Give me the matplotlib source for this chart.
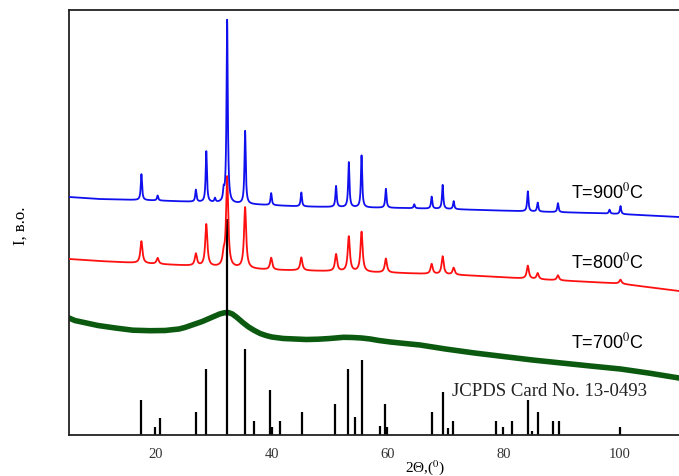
import numpy as np
import matplotlib
matplotlib.use("Agg")
import matplotlib.pyplot as plt

# intensities are in arbitrary units (offset stack)
theta_min, theta_max = 5.0, 110.3

# JCPDS 13-0493 reference sticks
jcpds_pos = [17.5, 19.9, 20.75, 27.0, 28.6, 32.2, 35.3, 37.0, 39.7, 40.0, 41.5,
             45.3, 51.0, 53.2, 54.3, 55.5, 58.6, 59.6, 59.9, 67.7, 69.6, 70.4,
             71.3, 78.7, 79.9, 81.5, 84.2, 84.9, 86.0, 88.6, 89.5, 100.1]
jcpds_int = [35, 8, 17, 23, 66, 216, 86, 14, 45, 8, 14,
             23, 31, 66, 18, 75, 9, 31, 8, 23, 43, 7,
             14, 14, 8, 14, 35, 4, 23, 14, 14, 8]

# T = 900 C
base900_x = [5, 10, 20, 27, 35, 45, 55, 62, 70, 76, 85, 95, 100, 110.3]
base900_y = [238, 236, 234.5, 233, 231, 228.5, 227.5, 227, 226, 225, 223.5, 222, 221, 218]
peak900_pos = [17.5, 20.3, 26.9, 28.7, 30.2, 31.7, 32.3, 35.4, 39.9, 45.1, 51.1,
               53.3, 55.5, 59.7, 64.6, 67.6, 69.5, 71.4, 84.2, 85.9, 89.4, 98.3, 100.2]
peak900_int = [26, 5, 12, 51, 4, 10, 183, 73, 12, 14, 21,
               45, 52, 19, 4, 12, 24, 8, 20, 9, 9, 4, 8]

# T = 800 C
base800_x = [5, 10, 20, 30, 40, 45, 55, 62, 72, 76, 85, 95, 100, 110.3]
base800_y = [176, 174, 171, 168, 165, 164.5, 163, 162, 160, 159, 156, 153, 151.5, 144]
peak800_pos = [17.5, 20.3, 26.9, 28.7, 31.7, 32.3, 35.4, 39.9, 45.1, 51.1,
               53.3, 55.5, 59.7, 67.6, 69.5, 71.4, 84.2, 85.9, 89.4, 100.2]
peak800_int = [22, 6, 12, 42, 10, 90, 61, 12, 13, 17,
               35, 40, 14, 10, 18, 7, 13, 6, 5, 4]

# T = 700 C (amorphous, broad hump)
curve700_x = [5, 6, 8, 10, 13, 16, 19, 21.6, 24, 25, 26, 27, 28, 29, 30, 31, 31.8,
              32.5, 33.2, 34, 35, 36, 37, 38, 39, 40, 42, 44, 46, 48, 50, 52.4, 54,
              55.5, 57, 58.5, 60.5, 63, 65.6, 70, 75, 80, 85, 90, 95, 100.2, 105, 110.3]
curve700_y = [117, 114.5, 112, 109.5, 107, 104.8, 104.3, 104.5, 106, 107.5, 109.5,
              111.5, 113.5, 116, 118.5, 121, 122.2, 122.5, 121, 117.5, 112.5, 108,
              104.5, 101.5, 99.5, 98, 96.5, 96, 95.5, 95.8, 96.5, 97.7, 97.5, 97,
              96, 94.5, 93, 91.5, 90, 86, 82, 78.5, 75, 72, 69, 66, 62, 57]


def pattern(x, bx, by, pos, inten, hw):
    y = np.interp(x, bx, by)
    for c, h in zip(pos, inten):
        y = y + h / (1.0 + ((x - c) / hw) ** 2)
    return y


x = np.linspace(theta_min, theta_max, 8000)
y900 = pattern(x, base900_x, base900_y, peak900_pos, peak900_int, 0.13)
y800 = pattern(x, base800_x, base800_y, peak800_pos, peak800_int, 0.22)

plt.rcParams['mathtext.fontset'] = 'stix'

fig = plt.figure(figsize=(6.79, 4.77), dpi=100)
ax = fig.add_axes([69 / 679, 41 / 477, 1 - 69 / 679, 425 / 477])

ax.plot(curve700_x, curve700_y, color='#0b5a10', lw=4.0, zorder=1,
        solid_joinstyle='round', solid_capstyle='round')
ax.vlines(jcpds_pos, 0, jcpds_int, color='black', lw=1.6, zorder=2)
ax.plot(x, y800, color='#ff1010', lw=1.3, zorder=3)
ax.plot(x, y900, color='#1010ee', lw=1.3, zorder=4)

ax.set_xlim(theta_min, theta_max)
ax.set_ylim(0, 425)
ax.set_yticks([])
ax.set_xticks([20, 40, 60, 80, 100])
ax.tick_params(axis='x', length=0, pad=9)
for lab in ax.get_xticklabels():
    lab.set_fontfamily('Liberation Serif')
    lab.set_fontsize(10.5)
    lab.set_color('#333333')

for s in ['left', 'top', 'bottom']:
    ax.spines[s].set_linewidth(1.3)
    ax.spines[s].set_color('#222222')
ax.spines['right'].set_visible(False)

ax.set_xlabel('2Θ,($^0$)', fontfamily='Liberation Serif', fontsize=11)
ax.xaxis.set_label_coords(0.584, -0.052)
fig.text(21 / 679, 1 - 226 / 477, 'I, в.о.', rotation=90, ha='center', va='center',
         fontfamily='Liberation Serif', fontsize=12)

lbl = dict(fontfamily='Liberation Sans', fontsize=13, ha='left', va='center')
ax.text(91.6, 244, 'T=900$^0$C', **lbl)
ax.text(91.6, 174, 'T=800$^0$C', **lbl)
ax.text(91.6, 94, 'T=700$^0$C', **lbl)
ax.text(71.2, 45, 'JCPDS Card No. 13-0493', fontfamily='Liberation Serif',
        fontsize=13.5, ha='left', va='center', color='#222222')

fig.savefig('out.png', dpi=100, facecolor='white')
